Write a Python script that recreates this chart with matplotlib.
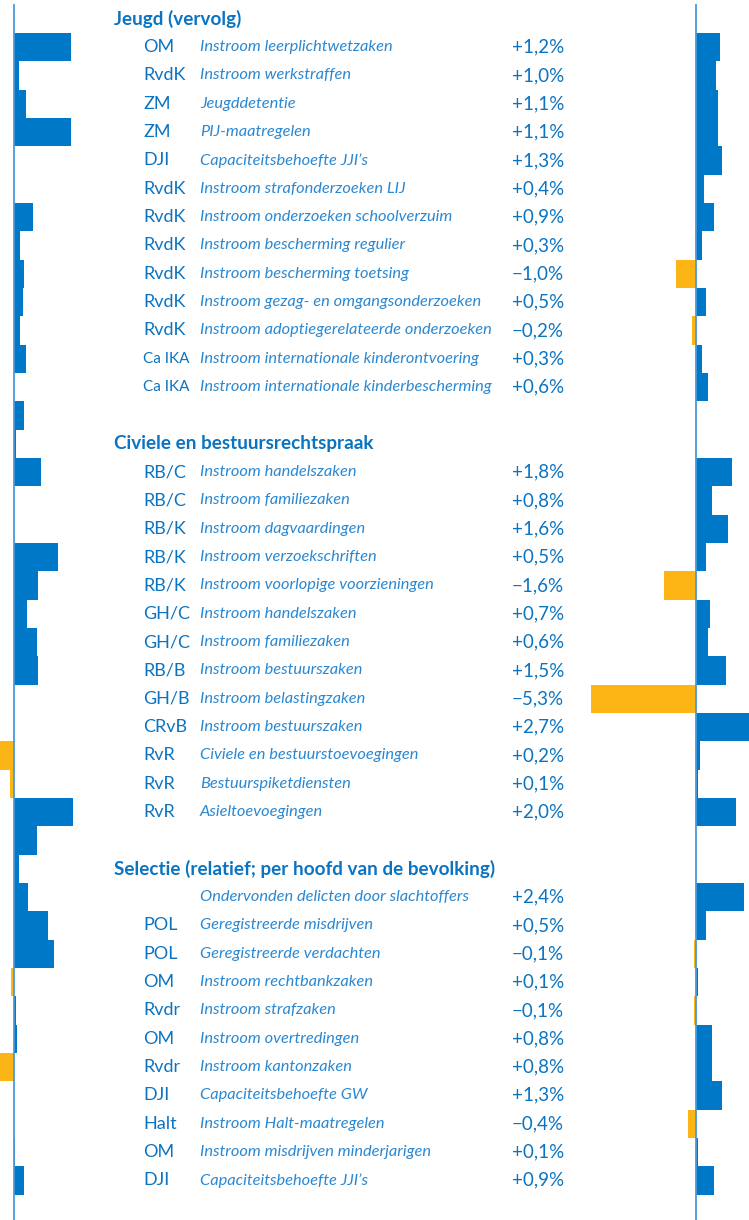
import matplotlib.pyplot as plt
import numpy as np

plt.rcParams['font.family'] = ['Lato', 'DejaVu Sans']

BLUE = '#0078c8'
YELLOW = '#fdb515'
TEXT_BLUE = '#0a74c2'
DESC_BLUE = '#2a88d2'
LINE_BLUE = '#4c9ad8'

W, H = 749, 1220
ROW_TOP = 33.0      # pixel y of the top of the first item row
ROW_H = 28.33       # pixel height of one row
PX_PER_PCT = 19.8   # bar length in pixels for 1 %

# table rows: (section header or None, code, description, value)
sections = ['Jeugd (vervolg)',
            'Civiele en bestuursrechtspraak',
            'Selectie (relatief; per hoofd van de bevolking)']

jeugd_codes = ['OM', 'RvdK', 'ZM', 'ZM', 'DJI', 'RvdK', 'RvdK', 'RvdK', 'RvdK',
               'RvdK', 'RvdK', 'Ca IKA', 'Ca IKA']
jeugd_desc = ['Instroom leerplichtwetzaken', 'Instroom werkstraffen', 'Jeugddetentie',
              'PIJ-maatregelen', 'Capaciteitsbehoefte JJI\u2019s',
              'Instroom strafonderzoeken LIJ', 'Instroom onderzoeken schoolverzuim',
              'Instroom bescherming regulier', 'Instroom bescherming toetsing',
              'Instroom gezag- en omgangsonderzoeken',
              'Instroom adoptiegerelateerde onderzoeken',
              'Instroom internationale kinderontvoering',
              'Instroom internationale kinderbescherming']
jeugd_vals = [1.2, 1.0, 1.1, 1.1, 1.3, 0.4, 0.9, 0.3, -1.0, 0.5, -0.2, 0.3, 0.6]

civiel_codes = ['RB/C', 'RB/C', 'RB/K', 'RB/K', 'RB/K', 'GH/C', 'GH/C', 'RB/B', 'GH/B',
                'CRvB', 'RvR', 'RvR', 'RvR']
civiel_desc = ['Instroom handelszaken', 'Instroom familiezaken', 'Instroom dagvaardingen',
               'Instroom verzoekschriften', 'Instroom voorlopige voorzieningen',
               'Instroom handelszaken', 'Instroom familiezaken', 'Instroom bestuurszaken',
               'Instroom belastingzaken', 'Instroom bestuurszaken',
               'Civiele en bestuurstoevoegingen', 'Bestuurspiketdiensten',
               'Asieltoevoegingen']
civiel_vals = [1.8, 0.8, 1.6, 0.5, -1.6, 0.7, 0.6, 1.5, -5.3, 2.7, 0.2, 0.1, 2.0]

selectie_codes = ['', 'POL', 'POL', 'OM', 'Rvdr', 'OM', 'Rvdr', 'DJI', 'Halt', 'OM', 'DJI']
selectie_desc = ['Ondervonden delicten door slachtoffers', 'Geregistreerde misdrijven',
                 'Geregistreerde verdachten', 'Instroom rechtbankzaken',
                 'Instroom strafzaken', 'Instroom overtredingen', 'Instroom kantonzaken',
                 'Capaciteitsbehoefte GW', 'Instroom Halt-maatregelen',
                 'Instroom misdrijven minderjarigen', 'Capaciteitsbehoefte JJI\u2019s']
selectie_vals = [2.4, 0.5, -0.1, 0.1, -0.1, 0.8, 0.8, 1.3, -0.4, 0.1, 0.9]

# bars of the neighbouring column, one per row of the grid (row 0 .. 41)
left_vals = [2.9, 0.25, 0.6, 2.9, 0.0, 0.0, 0.95, 0.3, 0.5, 0.45, 0.3, 0.6, 0.0,
             0.5, 0.1, 1.35, 0.0, 0.0, 2.2, 1.2, 0.65, 1.15, 1.2, 0.0, 0.0,
             -1.0, -0.2, 3.0, 1.15, 0.25, 0.7, 1.7, 2.0, -0.15, 0.1, 0.15,
             -1.0, 0.0, 0.0, 0.05, 0.5, 0.0]

# build row layout: header row, items, blank row
rows = []   # (row index, kind, code, desc, value)
r = -1
for title, codes, descs, vals in [(sections[0], jeugd_codes, jeugd_desc, jeugd_vals),
                                  (sections[1], civiel_codes, civiel_desc, civiel_vals),
                                  (sections[2], selectie_codes, selectie_desc, selectie_vals)]:
    rows.append((r, 'head', title, None, None))
    r += 1
    for c, d, v in zip(codes, descs, vals):
        rows.append((r, 'item', c, d, v))
        r += 1
    r += 1  # blank row

y_top = -ROW_TOP / ROW_H
y_bot = (H - ROW_TOP) / ROW_H

fig = plt.figure(figsize=(W / 100, H / 100), dpi=100)


def px_axes(x0, x1):
    return fig.add_axes([x0 / W, 0, (x1 - x0) / W, 1])


# text layer
ax_t = px_axes(0, W)
ax_t.set_xlim(0, W)
ax_t.set_ylim(y_bot, y_top)
ax_t.axis('off')

# right bars
ax_r = px_axes(560, W)
zero_r = 696
ax_r.set_xlim((560 - zero_r) / PX_PER_PCT, (W - zero_r) / PX_PER_PCT)
ax_r.set_ylim(y_bot, y_top)
ax_r.axis('off')

# left bars
ax_l = px_axes(0, 250)
zero_l = 14
ax_l.set_xlim((0 - zero_l) / PX_PER_PCT, (250 - zero_l) / PX_PER_PCT)
ax_l.set_ylim(y_bot, y_top)
ax_l.axis('off')

for ri, kind, code, desc, val in rows:
    yc = ri + 0.5
    if kind == 'head':
        ax_t.text(114, yc, code, fontsize=13.6, fontweight='bold', color=TEXT_BLUE,
                  va='center', ha='left')
        continue
    # the long code is set tighter in the original
    code_size = 11 if len(code) > 4 else 13
    ax_t.text(143, yc, code, fontsize=code_size, color=TEXT_BLUE, va='center', ha='left')
    ax_t.text(200, yc, desc, fontsize=11.8, style='italic',
              color=DESC_BLUE, va='center', ha='left')
    sign = '+' if val >= 0 else '\u2212'
    ax_t.text(512, yc, sign + f'{abs(val):.1f}'.replace('.', ',') + '%', fontsize=13.5,
              color=TEXT_BLUE, va='center', ha='left')
    ax_r.barh(yc, val, height=1.0, color=BLUE if val >= 0 else YELLOW, linewidth=0)

lv = np.array(left_vals)
ax_l.barh(np.arange(len(lv)) + 0.5, lv, height=1.0,
          color=[BLUE if v >= 0 else YELLOW for v in lv], linewidth=0)

# zero lines
for ax in (ax_l, ax_r):
    ax.plot([0, 0], [-28 / ROW_H, y_bot], color=LINE_BLUE, lw=1.3, zorder=3)

fig.savefig('out.png', dpi=100)
